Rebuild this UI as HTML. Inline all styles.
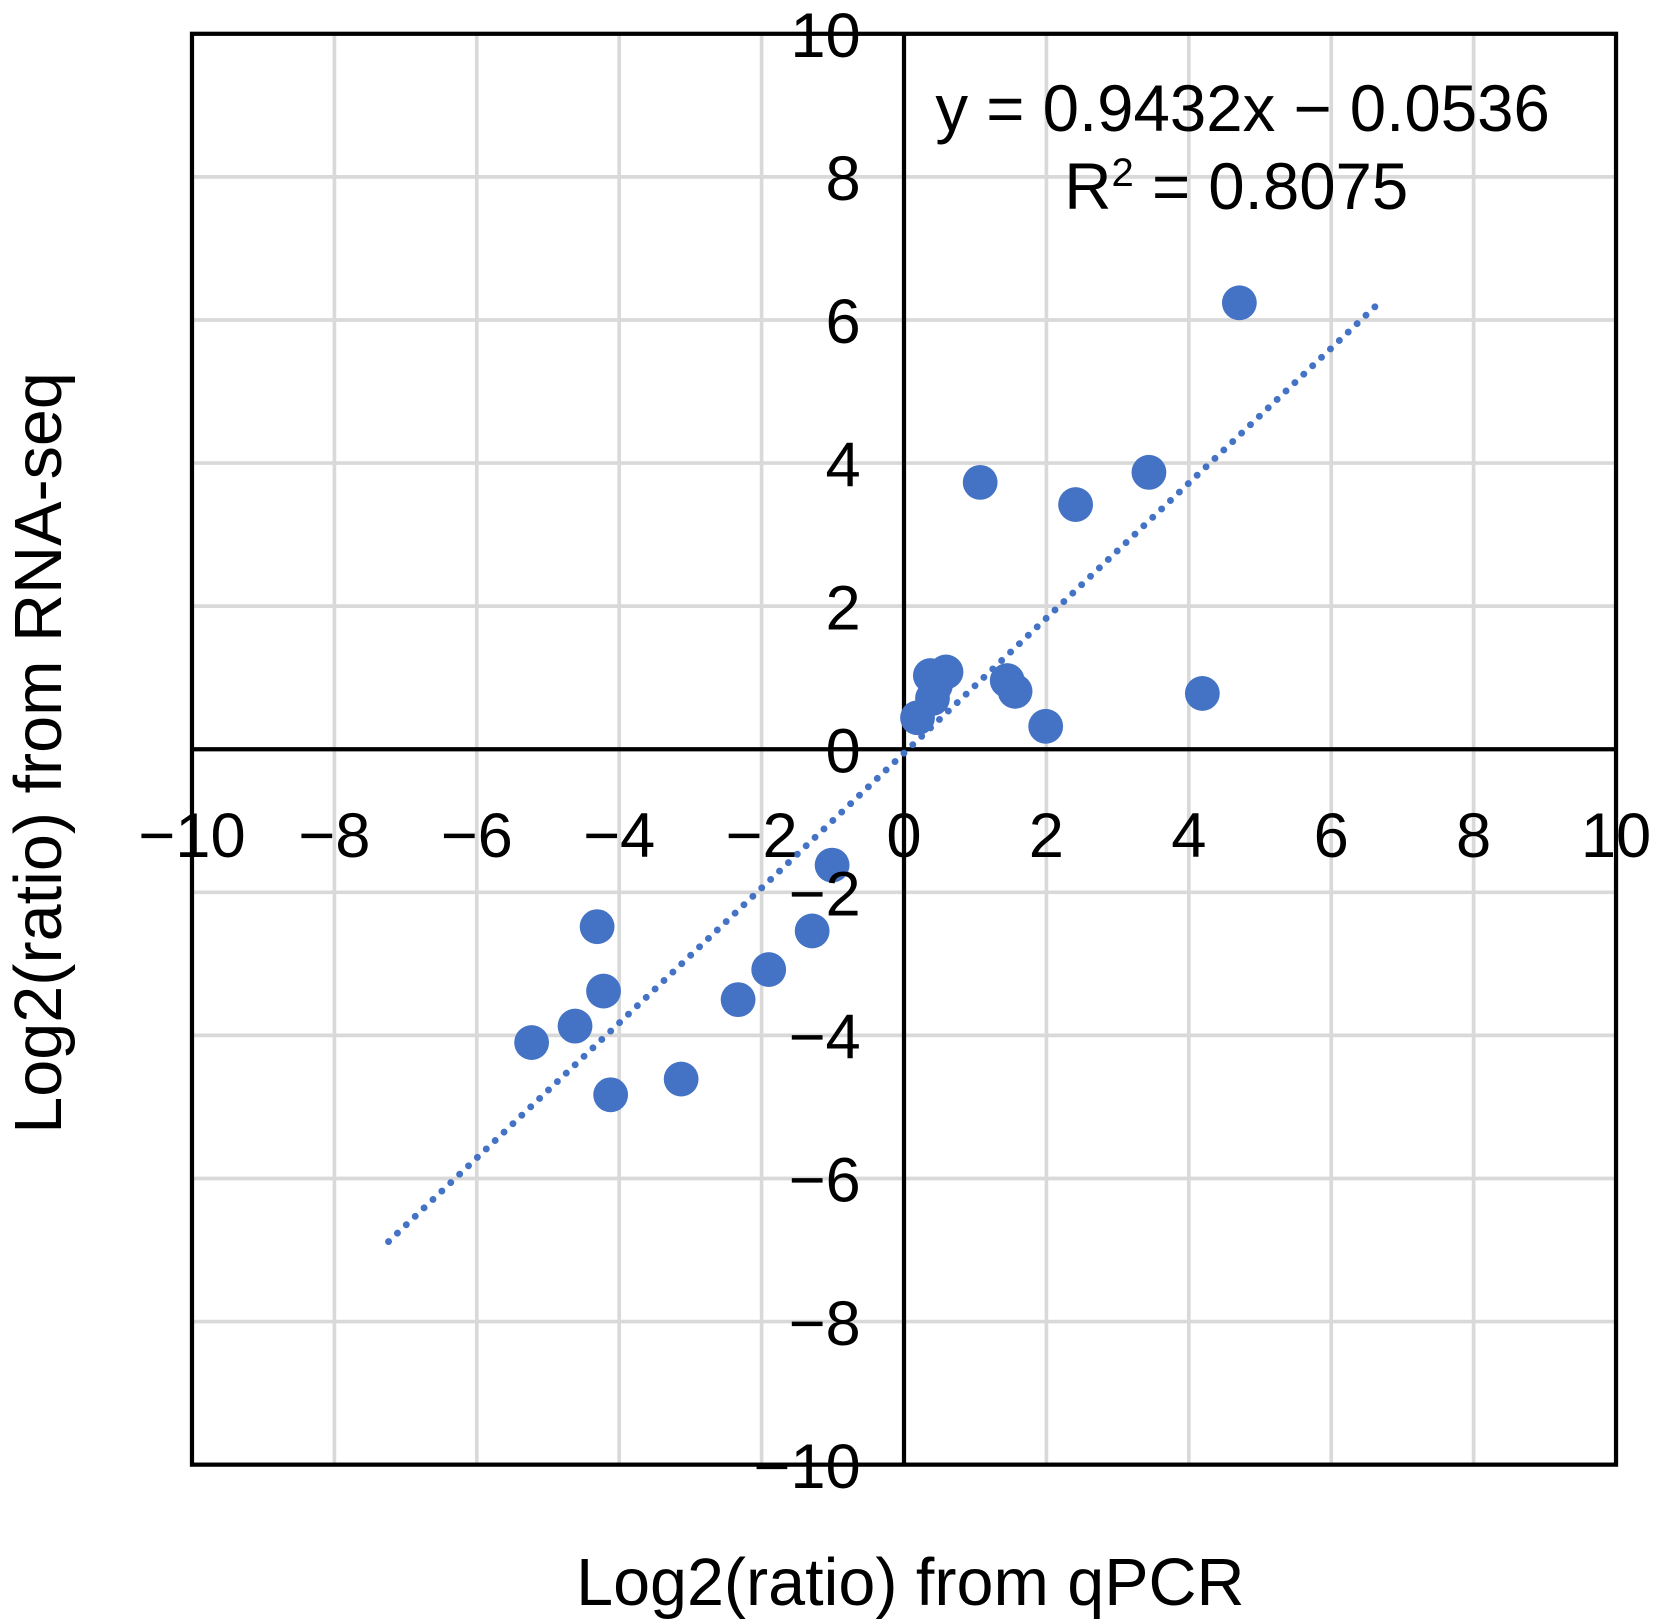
<!DOCTYPE html>
<html><head><meta charset="utf-8"><style>
html,body{margin:0;padding:0;background:#fff;}
svg{display:block;}
text{font-family:"Liberation Sans",Arial,sans-serif;fill:#000;}
</style></head><body>
<svg id="chart" width="1654" height="1622" viewBox="0 0 1568 1536" preserveAspectRatio="none" xmlns="http://www.w3.org/2000/svg">
<g id="grid"></g>
<g id="axes"></g>
<g id="trend"></g>
<g id="pts"></g>
<g id="labels"></g>
<text x="1178" y="124" font-size="62" text-anchor="middle">y = 0.9432x − 0.0536</text>
<text x="1172" y="198" font-size="62" text-anchor="middle">R<tspan font-size="38" dy="-22">2</tspan><tspan dy="22"> = 0.8075</tspan></text>
<text x="863" y="1520" font-size="63" text-anchor="middle">Log2(ratio) from qPCR</text>
<text x="0" y="0" font-size="63" text-anchor="middle" transform="translate(58,713) rotate(-90)">Log2(ratio) from RNA-seq</text>
</svg>
<script>
const xTicks = [-10,-8,-6,-4,-2,0,2,4,6,8,10];
const yTicks = [-10,-8,-6,-4,-2,0,2,4,6,8,10];
const xTickLabels = ["−10","−8","−6","−4","−2","0","2","4","6","8","10"];
const yTickLabels = ["−10","−8","−6","−4","−2","0","2","4","6","8","10"];
const xValues = [4.71,1.07,2.41,3.44,4.19,1.99,1.45,1.56,0.37,0.59,0.44,0.40,0.19,-1.01,-1.29,-1.90,-2.33,-4.31,-4.22,-4.62,-5.23,-4.12,-3.13];
const yValues = [6.24,3.73,3.42,3.87,0.78,0.32,0.96,0.81,1.03,1.08,0.89,0.71,0.44,-1.62,-2.54,-3.08,-3.50,-2.48,-3.38,-3.87,-4.10,-4.83,-4.61];
const slope = 0.9432, intercept = -0.0536;
const trendRange = [-7.24, 6.64];

const L=182,R=1532,T=32,B=1387;
const sx=v=>L+(v+10)/20*(R-L);
const sy=v=>B-(v+10)/20*(B-T);
const NS="http://www.w3.org/2000/svg";
function mk(tag,attrs,parent){const e=document.createElementNS(NS,tag);for(const k in attrs)e.setAttribute(k,attrs[k]);document.getElementById(parent).appendChild(e);return e;}

xTicks.forEach(v=>{const l=mk('line',{x1:sx(v),x2:sx(v),y1:T,y2:B,stroke:'#d9d9d9','stroke-width':3.5},'grid');

});
yTicks.forEach(v=>{const l=mk('line',{x1:L,x2:R,y1:sy(v),y2:sy(v),stroke:'#d9d9d9','stroke-width':3.5},'grid');

});

const box=mk('rect',{x:L,y:T,width:R-L,height:B-T,fill:'none',stroke:'#000','stroke-width':4},'axes');


const xa=mk('line',{x1:L,x2:R,y1:sy(0),y2:sy(0),stroke:'#000','stroke-width':4},'axes');


const ya=mk('line',{x1:sx(0),x2:sx(0),y1:T,y2:B,stroke:'#000','stroke-width':4},'axes');



const tl=mk('line',{x1:sx(trendRange[0]),y1:sy(slope*trendRange[0]+intercept),x2:sx(trendRange[1]),y2:sy(slope*trendRange[1]+intercept),stroke:'#4472C4','stroke-width':6.5,'stroke-dasharray':'0.1 11.5','stroke-linecap':'round'},'trend');



xValues.forEach((x,i)=>{const c=mk('circle',{cx:sx(x),cy:sy(yValues[i]),r:16.5,fill:'#4472C4'},'pts');

});

xTicks.forEach((v,i)=>{const t=mk('text',{x:sx(v),y:sy(0)+102,'font-size':60,'text-anchor':'middle'},'labels');t.textContent=xTickLabels[i];

});
yTicks.forEach((v,i)=>{const t=mk('text',{x:816,y:sy(v)+22,'font-size':60,'text-anchor':'end'},'labels');t.textContent=yTickLabels[i];

});
</script>
</body></html>
